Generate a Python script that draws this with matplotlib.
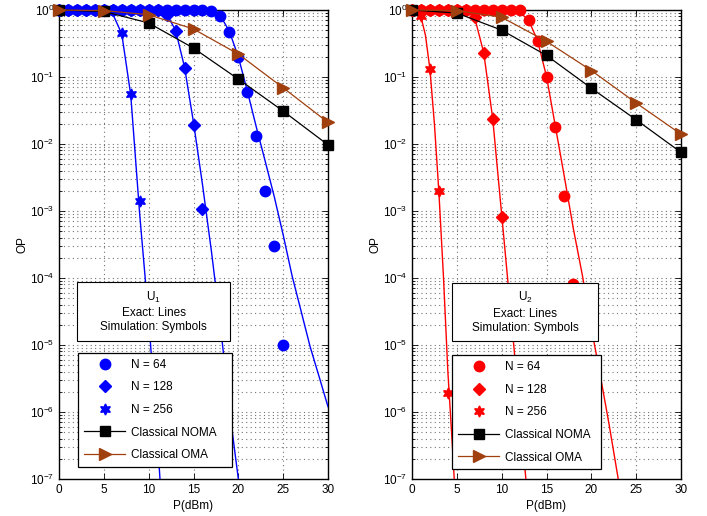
import numpy as np
import matplotlib.pyplot as plt
from matplotlib.patches import Rectangle

plt.rcParams['font.family'] = ['Liberation Sans', 'DejaVu Sans']
plt.rcParams['mathtext.fontset'] = 'custom'
plt.rcParams['mathtext.rm'] = 'Liberation Sans'
plt.rcParams['mathtext.it'] = 'Liberation Sans:italic'
plt.rcParams['font.size'] = 8.5

# ---------------- U1 (left panel) ----------------
# simulation points (symbols)
u1_sim64_x = np.arange(0, 26)
u1_sim64_y = [1, 1, 1, 1, 1, 1, 1, 1, 1, 1, 1, 1, 1, 1, 1, 1, 1, 0.97,
              0.81, 0.47, 0.2, 0.06, 0.013, 2e-3, 3e-4, 1e-5]
u1_sim128_x = np.arange(0, 17)
u1_sim128_y = [1, 1, 1, 1, 1, 1, 1, 1, 1, 1, 1, 1, 0.85, 0.49, 0.135, 0.019, 1.07e-3]
u1_sim256_x = np.arange(0, 10)
u1_sim256_y = [1, 1, 1, 1, 1, 1, 1, 0.45, 0.055, 1.4e-3]

# exact results (lines)
u1_ex64_x = [0, 14, 15, 16, 17, 18, 19, 20, 21, 22, 23, 24, 25, 26, 27, 28, 29, 30]
u1_ex64_y = [1, 1, 0.999, 0.995, 0.97, 0.82, 0.48, 0.2, 0.062, 0.018, 5.5e-3,
             1.65e-3, 4.4e-4, 1.07e-4, 3.2e-5, 9.5e-6, 3.4e-6, 1.2e-6]
u1_ex128_x = [0, 9, 10, 11, 12, 13, 14, 15, 16, 17, 18, 19, 20, 20.5]
u1_ex128_y = [1, 1, 0.999, 0.985, 0.87, 0.5, 0.14, 0.021, 2.5e-3, 2.5e-4,
              2.0e-5, 1.1e-6, 1.0e-7, 2.5e-8]
u1_ex256_x = [0, 4, 5, 6, 7, 8, 9, 10, 11, 11.5]
u1_ex256_y = [1, 1, 0.99, 0.87, 0.44, 0.054, 8.9e-4, 2.5e-5, 3.5e-7, 3.2e-8]

# ---------------- U2 (right panel) ----------------
u2_sim64_x = np.arange(0, 19)
u2_sim64_y = [1, 1, 1, 1, 1, 1, 1, 1, 1, 1, 1, 1, 1, 0.71, 0.35, 0.1, 0.018, 1.7e-3, 8e-5]
u2_sim128_x = np.arange(0, 11)
u2_sim128_y = [1, 1, 1, 1, 1, 1, 1, 0.78, 0.23, 0.024, 8.1e-4]
u2_sim256_x = np.arange(0, 5)
u2_sim256_y = [1, 0.8, 0.13, 2e-3, 1.9e-6]

u2_ex64_x = [0, 10, 11, 12, 13, 14, 15, 16, 17, 18, 19, 20, 21, 22, 23, 23.5]
u2_ex64_y = [1, 1, 0.993, 0.93, 0.71, 0.35, 0.102, 0.018, 3.2e-3, 5.4e-4,
             1.1e-4, 1.8e-5, 3.5e-6, 6.3e-7, 1e-7, 4e-8]
u2_ex128_x = [0, 5, 6, 7, 8, 9, 10, 11, 12, 12.7, 13.2]
u2_ex128_y = [1, 1, 0.98, 0.76, 0.23, 0.024, 8.9e-4, 3.2e-5, 1.1e-6, 1e-7, 2.5e-8]
u2_ex256_x = [0, 0.5, 1, 1.5, 2, 2.5, 3, 3.5, 4, 4.5, 5]
u2_ex256_y = [1, 0.955, 0.79, 0.42, 0.13, 0.02, 1.9e-3, 1.1e-4, 4e-6, 3.2e-7, 2e-8]

# classical schemes
p_dbm = [0, 5, 10, 15, 20, 25, 30]
u1_noma = [1.0, 0.95, 0.64, 0.27, 0.093, 0.031, 0.0097]
u1_oma = [1.0, 0.98, 0.85, 0.52, 0.22, 0.069, 0.021]
u2_noma = [1.0, 0.9, 0.5, 0.21, 0.068, 0.023, 0.0075]
u2_oma = [1.0, 0.98, 0.78, 0.34, 0.125, 0.041, 0.014]

xticks = [0, 5, 10, 15, 20, 25, 30]
oma_color = '#A0400F'
hexagram = (6, 1, 0)

fig = plt.figure(figsize=(7.07, 5.16), dpi=100)
ax1 = fig.add_axes([59/707, 1-479/516, 269/707, 469/516])
ax2 = fig.add_axes([412/707, 1-479/516, 269/707, 469/516])


def panel(ax, c, user, sims, exacts, noma, oma, box, leg):
    for (sx, sy), (ex, ey), m, lab, ms in zip(sims, exacts, ['o', 'D', hexagram],
                                               ['N = 64', 'N = 128', 'N = 256'],
                                               [7.5, 6.5, 8]):
        ax.plot(ex, ey, '-', color=c, lw=1.0, zorder=3)
        ax.plot(sx, sy, ls='none', marker=m, ms=ms, color=c, mec=c,
                clip_on=False, zorder=4, label=lab)
    ax.plot(p_dbm, noma, '-', color='k', lw=0.9, marker='s', ms=6.5, mfc='k',
            mec='k', clip_on=False, zorder=5, label='Classical NOMA')
    ax.plot(p_dbm, oma, '-', color=oma_color, lw=0.9, marker='>', ms=8,
            mfc=oma_color, mec=oma_color, clip_on=False, zorder=5,
            label='Classical OMA')

    ax.set_yscale('log')
    ax.set_xlim(0, 30)
    ax.set_ylim(1e-7, 1)
    ax.set_xticks(xticks)
    ax.grid(True, which='major', ls=(0, (1, 3)), color='0.45', lw=0.8)
    ax.grid(True, which='minor', axis='y', ls=(0, (1, 3)), color='0.45', lw=0.8)
    ax.tick_params(which='both', direction='in', top=True, right=True,
                   labelsize=8.5, width=0.6)
    ax.tick_params(which='major', length=4)
    ax.tick_params(which='minor', length=2)
    for s in ax.spines.values():
        s.set_linewidth(1.0)
    ax.set_xlabel('P(dBm)', fontsize=8.5)
    ax.set_ylabel('OP', fontsize=8.5)
    ax.xaxis.set_label_coords(0.5, -0.045)
    ax.yaxis.set_label_coords(-0.115, 0.5)

    # annotation box
    bx0, by0, bx1, by1 = box
    ax.add_patch(Rectangle((bx0, by0), bx1 - bx0, by1 - by0,
                           transform=ax.transAxes, facecolor='white',
                           edgecolor='k', lw=0.8, zorder=10, clip_on=False))
    ax.text((bx0 + bx1) / 2, (by0 + by1) / 2,
            user + '\nExact: Lines\nSimulation: Symbols',
            transform=ax.transAxes, ha='center', va='center', fontsize=8.5,
            linespacing=1.25, zorder=11)

    lg = ax.legend(loc='upper left', bbox_to_anchor=leg, mode='expand',
                   fancybox=False, framealpha=1, edgecolor='k', fontsize=8.5,
                   handlelength=3.5, handletextpad=0.5, labelspacing=0.9,
                   borderpad=0.5, borderaxespad=0)
    lg.get_frame().set_linewidth(0.9)
    lg.set_zorder(12)


panel(ax1, '#0000FF', 'U$_1$',
      [(u1_sim64_x, u1_sim64_y), (u1_sim128_x, u1_sim128_y), (u1_sim256_x, u1_sim256_y)],
      [(u1_ex64_x, u1_ex64_y), (u1_ex128_x, u1_ex128_y), (u1_ex256_x, u1_ex256_y)],
      u1_noma, u1_oma, (0.067, 0.294, 0.636, 0.42), (0.071, 0.269, 0.572, 0.0))
panel(ax2, '#FF0000', 'U$_2$',
      [(u2_sim64_x, u2_sim64_y), (u2_sim128_x, u2_sim128_y), (u2_sim256_x, u2_sim256_y)],
      [(u2_ex64_x, u2_ex64_y), (u2_ex128_x, u2_ex128_y), (u2_ex256_x, u2_ex256_y)],
      u2_noma, u2_oma, (0.149, 0.294, 0.693, 0.418), (0.149, 0.264, 0.554, 0.0))

fig.savefig('out.png', dpi=100)
